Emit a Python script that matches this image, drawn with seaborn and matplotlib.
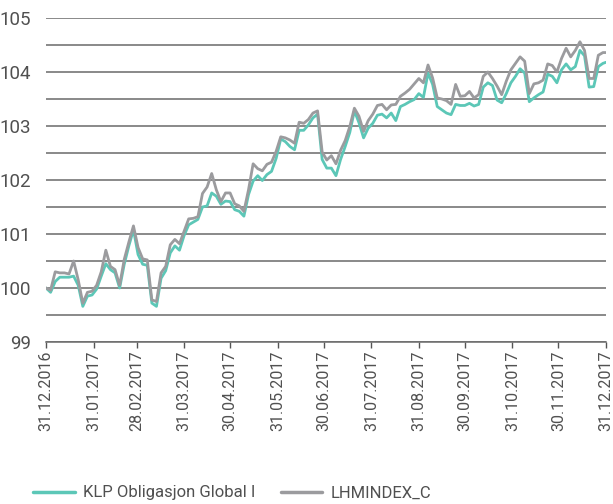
import numpy as np
import pandas as pd
import matplotlib
matplotlib.use('Agg')
import matplotlib.pyplot as plt
import seaborn as sns

# Values, one point every 3 days from 31.12.2016, last point 31.12.2017
klp = [100.00, 99.92, 100.12, 100.20, 100.20, 100.20, 100.22, 100.05, 99.66, 99.85,
       99.87, 99.98, 100.22, 100.45, 100.34, 100.28, 100.00, 100.44, 100.78, 101.08,
       100.62, 100.44, 100.42, 99.72, 99.66, 100.18, 100.32, 100.65, 100.78, 100.70,
       100.97, 101.17, 101.22, 101.27, 101.50, 101.52, 101.76, 101.70, 101.55, 101.61,
       101.60, 101.45, 101.42, 101.33, 101.73, 101.98, 102.08, 101.99, 102.10, 102.16,
       102.40, 102.76, 102.71, 102.62, 102.56, 102.92, 102.92, 103.02, 103.15, 103.22,
       102.38, 102.22, 102.22, 102.08, 102.38, 102.62, 102.88, 103.28, 103.06, 102.78,
       102.96, 103.05, 103.20, 103.22, 103.15, 103.24, 103.10, 103.36, 103.40, 103.45,
       103.49, 103.60, 103.53, 103.98, 103.77, 103.36, 103.30, 103.24, 103.21, 103.40,
       103.38, 103.38, 103.42, 103.37, 103.40, 103.72, 103.80, 103.75, 103.48, 103.43,
       103.60, 103.80, 103.92, 104.06, 103.98, 103.45, 103.52, 103.58, 103.63, 103.96,
       103.92, 103.80, 104.04, 104.15, 104.04, 104.10, 104.40, 104.30, 103.72, 103.73,
       104.10, 104.16, 104.18]
lhm = [100.00, 99.96, 100.30, 100.28, 100.28, 100.26, 100.50, 100.15, 99.72, 99.92,
       99.94, 100.05, 100.30, 100.70, 100.40, 100.34, 100.05, 100.53, 100.85, 101.15,
       100.75, 100.54, 100.52, 99.78, 99.75, 100.28, 100.40, 100.80, 100.90, 100.82,
       101.05, 101.28, 101.29, 101.32, 101.75, 101.87, 102.12, 101.82, 101.60, 101.76,
       101.76, 101.56, 101.52, 101.42, 101.82, 102.30, 102.21, 102.17, 102.29, 102.33,
       102.53, 102.80, 102.78, 102.74, 102.68, 103.07, 103.05, 103.12, 103.24, 103.28,
       102.52, 102.37, 102.45, 102.30, 102.55, 102.73, 102.99, 103.33, 103.18, 102.90,
       103.10, 103.22, 103.38, 103.40, 103.30, 103.39, 103.40, 103.55, 103.61, 103.68,
       103.78, 103.88, 103.80, 104.13, 103.89, 103.52, 103.50, 103.47, 103.40, 103.77,
       103.55, 103.56, 103.64, 103.52, 103.58, 103.92, 104.00, 103.88, 103.74, 103.58,
       103.83, 104.04, 104.16, 104.28, 104.20, 103.60, 103.78, 103.80, 103.85, 104.15,
       104.12, 104.00, 104.25, 104.44, 104.28, 104.40, 104.56, 104.40, 103.88, 103.88,
       104.31, 104.36, 104.36]

month_ends = ['2016-12-31', '2017-01-31', '2017-02-28', '2017-03-31', '2017-04-30',
              '2017-05-31', '2017-06-30', '2017-07-31', '2017-08-31', '2017-09-30',
              '2017-10-31', '2017-11-30', '2017-12-31']

dates = pd.date_range('2016-12-31', '2017-12-29', freq='3D').append(pd.DatetimeIndex(['2017-12-31']))

df = pd.DataFrame({'date': dates,
                   'KLP Obligasjon Global I': klp,
                   'LHMINDEX_C': lhm})
long = df.melt(id_vars='date', var_name='serie', value_name='verdi')

sns.set_theme(style='white')
plt.rcParams['font.family'] = ['Roboto', 'DejaVu Sans']

fig = plt.figure(figsize=(6.13, 5.04), dpi=100)
ax = fig.add_axes([46 / 613, 1 - 342 / 504, 560 / 613, 324 / 504])

sns.lineplot(data=long, x='date', y='verdi', hue='serie',
             palette={'KLP Obligasjon Global I': '#5cc7b7', 'LHMINDEX_C': '#9b9b9e'},
             linewidth=2.0, ax=ax, legend=False)
# grey on top, like the original
for line, z in zip(ax.get_lines(), [3, 4]):
    line.set_zorder(z)

ax.set_ylim(99, 105)
ax.set_xlim(pd.Timestamp('2016-12-31'), pd.Timestamp('2017-12-31'))
ax.set_yticks(np.arange(99, 105.01, 1))
ax.set_yticks(np.arange(99.5, 105, 1), minor=True)
ax.grid(axis='y', which='both', color='#6a6a6a', linewidth=1.1)
ax.set_axisbelow(True)

ticks = pd.to_datetime(month_ends)
ax.set_xticks(ticks)
ax.set_xticklabels([t.strftime('%d.%m.%Y') for t in ticks], rotation=90,
                   fontsize=11.5, color='#505050')
ax.tick_params(axis='x', bottom=True, length=4, width=1, color='#555555', pad=2)
ax.tick_params(axis='y', left=False, pad=5, labelsize=13.5, labelcolor='#505050')

for s in ['top', 'right', 'left']:
    ax.spines[s].set_visible(False)
ax.spines['bottom'].set_color('#6a6a6a')
ax.spines['bottom'].set_linewidth(1.1)
ax.set_xlabel('')
ax.set_ylabel('')

handles = [plt.Line2D([], [], color='#5cc7b7', linewidth=2.5),
           plt.Line2D([], [], color='#9b9b9e', linewidth=2.5)]
leg = fig.legend(handles, ['KLP Obligasjon Global I', 'LHMINDEX_C'],
                 loc='center left', bbox_to_anchor=(0.030, 0.022), ncol=2,
                 frameon=False, handlelength=2.5, handletextpad=0.5,
                 columnspacing=1.5, prop={'size': 12})
for t in leg.get_texts():
    t.set_color('#505050')

fig.savefig('out.png', dpi=100)
